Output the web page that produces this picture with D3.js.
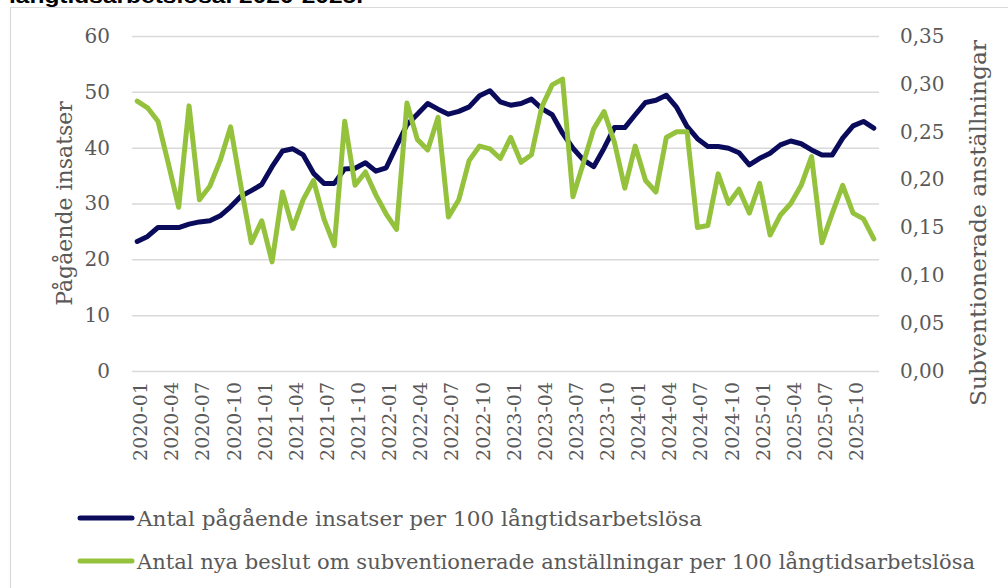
<!DOCTYPE html>
<html>
<head>
<meta charset="utf-8">
<script src="https://cdn.jsdelivr.net/npm/d3@7"></script>
<style>
  html, body { margin: 0; padding: 0; background: #fff; }
  svg { display: block; }
</style>
</head>
<body>
<svg id="chart" width="1008" height="588"></svg>
<script>
// ---------- DATA ----------
const months = [];
for (let y = 2020; y <= 2025; y++) for (let m = 1; m <= 12; m++) months.push(`${y}-${String(m).padStart(2, "0")}`);

const pagaende = [
  23.2, 24.1, 25.7, 25.7, 25.7, 26.3, 26.7, 26.9, 27.8, 29.4, 31.3, 32.3,
  33.4, 36.6, 39.4, 39.8, 38.7, 35.4, 33.6, 33.6, 36.2, 36.3, 37.3, 35.8,
  36.4, 40.3, 44.1, 46.0, 47.9, 46.9, 46.0, 46.5, 47.3, 49.3, 50.2, 48.2,
  47.6, 47.9, 48.7, 47.0, 45.9, 42.6, 39.9, 37.8, 36.6, 39.9, 43.6, 43.6,
  45.9, 48.1, 48.5, 49.4, 47.2, 43.8, 41.6, 40.2, 40.2, 39.9, 39.1, 36.9,
  38.1, 39.0, 40.5, 41.2, 40.7, 39.6, 38.7, 38.7, 41.7, 43.9, 44.7, 43.5
];

const nyaBeslut = [
  0.282, 0.275, 0.261, 0.217, 0.171, 0.277, 0.179, 0.193, 0.220, 0.255, 0.193, 0.134,
  0.157, 0.114, 0.187, 0.149, 0.179, 0.199, 0.159, 0.131, 0.261, 0.194, 0.208, 0.184,
  0.164, 0.148, 0.280, 0.242, 0.231, 0.265, 0.161, 0.179, 0.220, 0.235, 0.232, 0.222,
  0.244, 0.218, 0.226, 0.276, 0.299, 0.305, 0.182, 0.217, 0.253, 0.271, 0.239, 0.191,
  0.235, 0.199, 0.187, 0.244, 0.250, 0.250, 0.150, 0.152, 0.206, 0.175, 0.190, 0.165,
  0.196, 0.142, 0.163, 0.175, 0.194, 0.224, 0.134, 0.165, 0.194, 0.165, 0.159, 0.138
];

const leftTicks = [0, 10, 20, 30, 40, 50, 60];
const rightTicks = [0, 0.05, 0.10, 0.15, 0.20, 0.25, 0.30, 0.35];
const xTickLabels = months.filter((d, i) => i % 3 === 0);

const titleText = "långtidsarbetslösa. 2020-2025.";
const leftTitle = "Pågående insatser";
const rightTitle = "Subventionerade anställningar";
const seriesNames = [
  "Antal pågående insatser per 100 långtidsarbetslösa",
  "Antal nya beslut om subventionerade anställningar per 100 långtidsarbetslösa"
];

// ---------- LAYOUT ----------
const NAVY = "#0b0b5c", GREEN = "#95c23d", TXT = "#595959", GRID = "#d9d9d9";
const FONT = "'DejaVu Serif', 'Liberation Serif', serif";
const plot = { left: 132, right: 879, top: 36, bottom: 371 };
const legendWidths = [565, 838];

const svg = d3.select("#chart");

// frame
svg.append("path")
  .attr("d", "M10.5,600 L10.5,7.5 L1010,7.5")
  .attr("fill", "none").attr("stroke", GRID).attr("stroke-width", 1.2);

// title (cut off at the top edge, as in the reference)
svg.append("text")
  .attr("x", 9).attr("y", 3)
  .attr("font-family", "'Liberation Sans', Arial, sans-serif")
  .attr("font-weight", "bold").attr("font-size", 21)
  .attr("fill", "#000")
  .attr("textLength", 354).attr("lengthAdjust", "spacingAndGlyphs")
  .text(titleText);

const x = d3.scalePoint().domain(months).range([plot.left, plot.right]).padding(0.5);
const yL = d3.scaleLinear().domain([0, 60]).range([plot.bottom, plot.top]);
const yR = d3.scaleLinear().domain([0, 0.35]).range([plot.bottom, plot.top]);

// gridlines
svg.append("g")
  .attr("transform", `translate(${plot.left},0)`)
  .call(d3.axisLeft(yL).tickValues(leftTicks).tickSize(-(plot.right - plot.left)).tickFormat(""))
  .call(g => g.select(".domain").remove())
  .call(g => g.selectAll("line").attr("stroke", GRID).attr("stroke-width", 1.5));

// left axis labels
svg.append("g")
  .attr("transform", `translate(${plot.left},0)`)
  .call(d3.axisLeft(yL).tickValues(leftTicks).tickSize(0).tickPadding(22).tickFormat(d3.format("d")))
  .call(g => g.select(".domain").remove())
  .call(g => g.selectAll("text").attr("font-family", FONT).attr("font-size", 20).attr("fill", TXT));

// right axis labels
const sv = d3.formatLocale({ decimal: ",", thousands: " ", grouping: [3], currency: ["", " kr"] });
svg.append("g")
  .attr("transform", `translate(${plot.right},0)`)
  .call(d3.axisRight(yR).tickValues(rightTicks).tickSize(0).tickPadding(21).tickFormat(sv.format(".2f")))
  .call(g => g.select(".domain").remove())
  .call(g => g.selectAll("text").attr("font-family", FONT).attr("font-size", 20).attr("fill", TXT));

// x axis labels
svg.append("g")
  .attr("transform", `translate(0,${plot.bottom})`)
  .call(d3.axisBottom(x).tickValues(xTickLabels).tickSize(0).tickPadding(0))
  .call(g => g.select(".domain").remove())
  .call(g => g.selectAll("text")
    .attr("font-family", FONT).attr("font-size", 19).attr("fill", TXT)
    .attr("text-anchor", "end")
    .attr("transform", "rotate(-90)")
    .attr("x", -11).attr("y", 0).attr("dy", "0.5em"));

// axis titles
svg.append("text")
  .attr("transform", `translate(72,${(plot.top + plot.bottom) / 2}) rotate(-90)`)
  .attr("text-anchor", "middle")
  .attr("font-family", FONT).attr("font-size", 22).attr("fill", TXT)
  .text(leftTitle);
svg.append("text")
  .attr("transform", `translate(986,223) rotate(-90)`)
  .attr("text-anchor", "middle")
  .attr("font-family", FONT).attr("font-size", 23).attr("fill", TXT)
  .attr("textLength", 366).attr("lengthAdjust", "spacingAndGlyphs")
  .text(rightTitle);

// lines
const lineL = d3.line().x((d, i) => x(months[i])).y(d => yL(d));
const lineR = d3.line().x((d, i) => x(months[i])).y(d => yR(d));
svg.append("path").datum(pagaende).attr("d", lineL)
  .attr("fill", "none").attr("stroke", NAVY).attr("stroke-width", 5)
  .attr("stroke-linejoin", "round").attr("stroke-linecap", "round");
svg.append("path").datum(nyaBeslut).attr("d", lineR)
  .attr("fill", "none").attr("stroke", GREEN).attr("stroke-width", 5)
  .attr("stroke-linejoin", "round").attr("stroke-linecap", "round");

// legend
const legend = svg.append("g");
[NAVY, GREEN].forEach((c, i) => {
  const yy = 518 + i * 43;
  legend.append("line").attr("x1", 80).attr("x2", 132).attr("y1", yy).attr("y2", yy)
    .attr("stroke", c).attr("stroke-width", 5).attr("stroke-linecap", "round");
  legend.append("text").attr("x", 137).attr("y", yy + 8)
    .attr("font-family", FONT).attr("font-size", 21).attr("fill", TXT)
    .attr("textLength", legendWidths[i]).attr("lengthAdjust", "spacingAndGlyphs")
    .text(seriesNames[i]);
});
</script>
</body>
</html>
